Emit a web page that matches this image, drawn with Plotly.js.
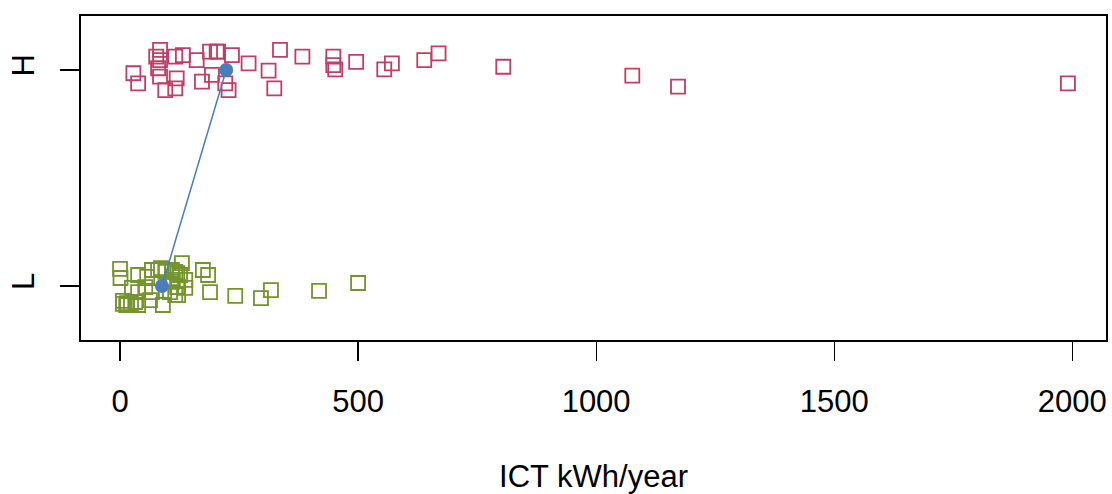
<!DOCTYPE html>
<html>
<head>
<meta charset="utf-8">
<script src="https://cdn.plot.ly/plotly-3.0.1.min.js"></script>
<style>
  html, body { margin: 0; padding: 0; background: #fff; }
  #chart { width: 1112px; height: 494px; }
</style>
</head>
<body>
<div id="chart"></div>
<script>
// Annual ICT electricity use per household, split into L and H groups (y jittered)
const groupLabels = ["L", "H"];
const groupPos = [1, 2];

const kwhH = [28, 38, 84, 76, 84, 116, 132, 80, 84, 119, 95, 116, 161, 172, 189, 203, 206, 235, 221, 228,
  193, 270, 312, 324, 336, 383, 448, 448, 452, 496, 555, 571, 639, 669, 805, 1076, 1172, 1991];
const jitterH = [1.985, 1.938, 2.093, 2.062, 2.046, 2.062, 2.069, 2.008, 1.969, 1.961, 1.907, 1.915, 2.046,
  1.946, 2.085, 2.085, 2.085, 2.069, 1.938, 1.907, 1.977, 2.031, 1.997, 1.915, 2.093, 2.062, 2.062, 2.023,
  2.003, 2.038, 2.003, 2.031, 2.046, 2.077, 2.015, 1.974, 1.923, 1.938];

const kwhL = [0, 1, 38, 57, 67, 80, 95, 109, 120, 130, 126, 137, 116, 109, 122, 137, 116, 174, 185, 189,
  242, 296, 317, 418, 500, 25, 38, 67, 53, 6, 15, 23, 32, 38, 13, 6, 63, 90, 105, 120, 122, 111, 86];
const jitterL = [1.079, 1.037, 1.051, 1.042, 1.074, 1.074, 1.065, 1.074, 1.060, 1.106, 1.051, 1.028, 1.065,
  1.019, 0.995, 0.991, 0.958, 1.074, 1.051, 0.972, 0.954, 0.944, 0.981, 0.977, 1.014, 0.991, 0.972, 0.972,
  0.995, 0.931, 0.921, 0.917, 0.926, 0.912, 0.912, 0.917, 0.935, 0.912, 0.972, 0.995, 0.958, 1.028, 1.083];

// group medians (L, H)
const medianKwh = [88, 223];

const colH = "rgb(192,62,102)";
const colL = "rgb(116,148,46)";
const colMed = "rgb(74,126,187)";
const font = "Liberation Sans, Arial, Helvetica, sans-serif";

const traces = [
  {
    x: kwhL, y: jitterL, type: "scatter", mode: "markers",
    marker: { symbol: "square-open", size: 14, color: colL, line: { width: 1.8, color: colL } },
    hoverinfo: "x"
  },
  {
    x: kwhH, y: jitterH, type: "scatter", mode: "markers",
    marker: { symbol: "square-open", size: 14, color: colH, line: { width: 1.8, color: colH } },
    hoverinfo: "x"
  },
  {
    x: medianKwh, y: groupPos, type: "scatter", mode: "lines+markers",
    line: { color: colMed, width: 1.5 },
    marker: { symbol: "circle", size: 14, color: colMed },
    hoverinfo: "x"
  }
];

const layout = {
  width: 1112, height: 494,
  margin: { l: 81, r: 6, t: 16, b: 154 },
  paper_bgcolor: "#fff", plot_bgcolor: "#fff",
  showlegend: false,
  font: { family: font, size: 31, color: "#000" },
  xaxis: {
    range: [-82, 2071],
    tickvals: [0, 500, 1000, 1500, 2000],
    ticktext: ["0", "500", "1000", "1500", "2000"],
    ticks: "outside", ticklen: 19, tickwidth: 1.2, tickcolor: "#000",
    ticklabelstandoff: 14,
    showline: true, mirror: true, linecolor: "#000", linewidth: 1.6,
    showgrid: false, zeroline: false,
    tickfont: { family: font, size: 31, color: "#000" },
    title: { text: "ICT kWh/year", font: { family: font, size: 31, color: "#000" }, standoff: 49 }
  },
  yaxis: {
    range: [0.75, 2.25],
    tickvals: groupPos, ticktext: groupLabels, tickangle: -90,
    ticks: "outside", ticklen: 19, tickwidth: 1.2, tickcolor: "#000",
    ticklabelstandoff: 14,
    showline: true, mirror: true, linecolor: "#000", linewidth: 1.6,
    showgrid: false, zeroline: false,
    tickfont: { family: font, size: 31, color: "#000" }
  }
};

Plotly.newPlot("chart", traces, layout, { staticPlot: true, displayModeBar: false });
</script>
</body>
</html>
